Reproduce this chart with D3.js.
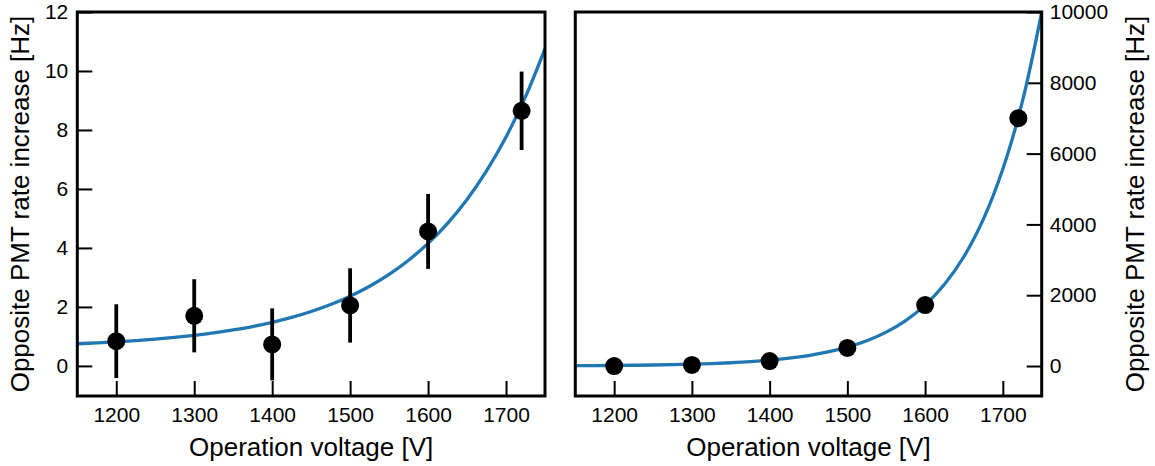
<!DOCTYPE html>
<html>
<head>
<meta charset="utf-8">
<script src="https://cdn.jsdelivr.net/npm/d3@7"></script>
<style>
  html, body { margin: 0; padding: 0; background: #fff; }
  svg { display: block; }
  text { font-family: "Liberation Sans", Arial, Helvetica, sans-serif; fill: #000; }
</style>
</head>
<body>
<svg id="chart" width="1155" height="466"></svg>
<script>
// ---- data ----
const voltages = [1200, 1300, 1400, 1500, 1600, 1720];
const leftRates = [0.84, 1.70, 0.73, 2.05, 4.56, 8.65];
const leftErrors = [1.25, 1.24, 1.22, 1.26, 1.27, 1.33];
const rightRates = [0, 30, 140, 510, 1720, 7000];

const fitVoltages = [1150, 1175, 1200, 1225, 1250, 1275, 1300, 1325, 1350, 1375, 1400, 1425, 1450,
                     1475, 1500, 1525, 1550, 1575, 1600, 1625, 1650, 1675, 1700, 1725, 1750];
const leftFit = [0.752, 0.781, 0.816, 0.858, 0.907, 0.965, 1.036, 1.119, 1.218, 1.336, 1.477, 1.644, 1.844,
                 2.082, 2.366, 2.703, 3.105, 3.585, 4.155, 4.836, 5.645, 6.611, 7.760, 9.129, 10.76];
const rightFit = [9, 12, 16, 21, 28, 38, 51, 68, 92, 123, 165, 221, 296,
                  397, 533, 714, 957, 1284, 1720, 2308, 3094, 4148, 5563, 7459, 10000];

const xTicks = [1200, 1300, 1400, 1500, 1600, 1700];
const leftYTicks = [0, 2, 4, 6, 8, 10, 12];
const rightYTicks = [0, 2000, 4000, 6000, 8000, 10000];

const xTitle = "Operation voltage [V]";
const yTitle = "Opposite PMT rate increase [Hz]";

// ---- layout ----
const svg = d3.select("#chart");
const plotTop = 12, plotBottom = 396;
const panels = [
  { x0: 77.3, x1: 545, yDomain: [-1.02, 12], yTicks: leftYTicks, rates: leftRates, errors: leftErrors,
    fit: leftFit, side: "left", titleX: 28.5, id: "L" },
  { x0: 575.3, x1: 1041.7, yDomain: [-847, 10000], yTicks: rightYTicks, rates: rightRates, errors: null,
    fit: rightFit, side: "right", titleX: 1143.5, id: "R" }
];
const blue = "#1f77b4";

panels.forEach(p => {
  const x = d3.scaleLinear().domain([1150, 1750]).range([p.x0, p.x1]);
  const y = d3.scaleLinear().domain(p.yDomain).range([plotBottom, plotTop]);
  const g = svg.append("g");

  svg.append("clipPath").attr("id", "clip" + p.id)
    .append("rect").attr("x", p.x0).attr("y", plotTop).attr("width", p.x1 - p.x0).attr("height", plotBottom - plotTop);

  const xa = g.append("g").attr("transform", `translate(0,${plotBottom})`)
    .call(d3.axisBottom(x).tickValues(xTicks).tickFormat(d3.format("d"))
      .tickSizeInner(-15).tickSizeOuter(0).tickPadding(11));
  xa.select(".domain").remove();
  xa.selectAll("line").attr("stroke", "#000").attr("stroke-width", 2);
  xa.selectAll("text").style("font-size", "21px").attr("fill", "#000");

  let ya;
  if (p.side === "left") {
    ya = g.append("g").attr("transform", `translate(${p.x0},0)`)
      .call(d3.axisLeft(y).tickValues(p.yTicks).tickFormat(d3.format("d"))
        .tickSizeInner(-15).tickSizeOuter(0).tickPadding(9));
  } else {
    ya = g.append("g").attr("transform", `translate(${p.x1},0)`)
      .call(d3.axisRight(y).tickValues(p.yTicks).tickFormat(d3.format("d"))
        .tickSizeInner(-15).tickSizeOuter(0).tickPadding(8));
  }
  ya.select(".domain").remove();
  ya.selectAll("line").attr("stroke", "#000").attr("stroke-width", 2);
  ya.selectAll("text").style("font-size", "21px").attr("fill", "#000");

  const line = d3.line().x((d, i) => x(fitVoltages[i])).y(d => y(d)).curve(d3.curveCatmullRom.alpha(0.5));
  g.append("path").datum(p.fit).attr("clip-path", `url(#clip${p.id})`)
    .attr("d", line).attr("fill", "none").attr("stroke", blue).attr("stroke-width", 3.3);

  if (p.errors) {
    g.selectAll(".err").data(voltages).enter().append("line")
      .attr("x1", d => x(d)).attr("x2", d => x(d))
      .attr("y1", (d, i) => y(p.rates[i] - p.errors[i]))
      .attr("y2", (d, i) => y(p.rates[i] + p.errors[i]))
      .attr("stroke", "#000").attr("stroke-width", 3.8);
  }

  g.selectAll(".pt").data(voltages).enter().append("circle")
    .attr("cx", d => x(d)).attr("cy", (d, i) => y(p.rates[i]))
    .attr("r", 9).attr("fill", "#000");

  g.append("rect").attr("x", p.x0).attr("y", plotTop).attr("width", p.x1 - p.x0).attr("height", plotBottom - plotTop)
    .attr("fill", "none").attr("stroke", "#000").attr("stroke-width", 3);

  g.append("text").attr("x", (p.x0 + p.x1) / 2).attr("y", 456)
    .attr("text-anchor", "middle").style("font-size", "26px").text(xTitle);
  g.append("text").attr("transform", `translate(${p.titleX},${(plotTop + plotBottom) / 2}) rotate(-90)`)
    .attr("text-anchor", "middle").style("font-size", "26px").text(yTitle);
});
</script>
</body>
</html>
